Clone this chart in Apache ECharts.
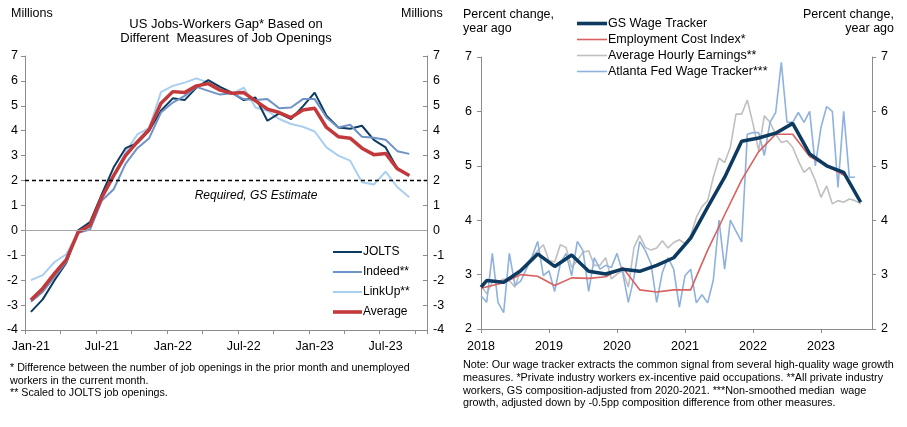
<!DOCTYPE html>
<html>
<head>
<meta charset="utf-8">
<script src="https://cdn.jsdelivr.net/npm/echarts@6.0.0/dist/echarts.min.js"></script>
<style>
html,body{margin:0;padding:0;background:#fff;}
#c{width:907px;height:427px;}
</style>
</head>
<body>
<div id="c"></div>
<script>
// ---------- LEFT PANEL DATA (millions) ----------
var leftMonths = ['Jan-21','Feb-21','Mar-21','Apr-21','May-21','Jun-21','Jul-21','Aug-21','Sep-21','Oct-21','Nov-21','Dec-21',
  'Jan-22','Feb-22','Mar-22','Apr-22','May-22','Jun-22','Jul-22','Aug-22','Sep-22','Oct-22','Nov-22','Dec-22',
  'Jan-23','Feb-23','Mar-23','Apr-23','May-23','Jun-23','Jul-23','Aug-23','Sep-23','Oct-23'];
var jolts   = [-3.27,-2.77,-2.0,-1.3,0.0,0.33,1.45,2.53,3.3,3.5,4.0,4.8,5.3,5.23,5.73,6.03,5.76,5.53,5.23,5.33,4.4,4.7,4.47,4.98,5.53,4.6,4.13,4.08,4.2,3.63,3.33,2.47,2.2];
var indeed  = [-2.87,-2.47,-1.87,-1.27,-0.1,0.03,1.2,1.65,2.67,3.3,3.7,4.73,5.13,5.4,5.76,5.6,5.45,5.5,5.27,5.23,5.27,4.9,4.93,5.27,5.27,4.53,4.13,4.24,3.76,3.72,3.64,3.18,3.07];
var linkup  = [-2.0,-1.8,-1.27,-0.96,-0.07,0.07,1.27,2.2,3.13,3.85,4.1,5.55,5.8,5.93,6.1,5.93,5.67,5.47,5.73,4.93,4.8,4.47,4.27,4.16,3.97,3.33,3.0,2.8,1.93,1.84,2.36,1.73,1.33];
var average = [-2.8,-2.33,-1.73,-1.17,-0.07,0.2,1.33,2.2,3.0,3.55,4.05,5.1,5.57,5.53,5.8,5.89,5.63,5.5,5.53,5.2,4.87,4.73,4.53,4.83,4.9,4.13,3.76,3.7,3.3,3.04,3.09,2.47,2.2];
var requiredGap = 2;
var leftYTicks = {min:-4, max:7, step:1};

// ---------- RIGHT PANEL DATA (percent change, year ago) ----------
var rightStartYear = 2018;
var rightYears = [2018,2019,2020,2021,2022,2023];
// monthly series starting Jan-2018
var ahe = [2.80,2.65,2.86,2.86,2.92,2.89,2.77,3.10,3.20,3.32,3.44,3.55,
           3.26,3.23,3.55,3.50,3.13,3.26,3.41,3.44,3.17,3.17,3.31,2.92,
           3.01,3.07,2.77,3.50,3.72,3.50,3.45,3.49,3.62,3.49,3.59,3.64,
           3.57,3.72,4.05,4.25,4.36,4.79,5.14,5.06,5.34,5.95,5.95,6.21,
           5.77,5.28,5.92,5.80,5.58,5.43,5.46,5.34,5.09,4.88,4.97,4.73,
           4.42,4.63,4.30,4.36,4.33,4.39,4.36,4.30];
var atlanta = [2.61,2.49,3.39,2.49,2.30,3.39,2.80,2.88,3.10,3.33,3.61,2.98,
               3.07,2.69,3.20,3.39,2.98,3.61,3.44,2.69,3.31,3.10,3.17,3.13,
               3.39,3.04,2.49,2.95,3.61,3.44,3.20,2.49,3.04,3.31,3.10,2.40,
               2.98,3.10,2.48,2.63,2.48,2.90,4.00,3.10,4.00,3.80,3.60,5.58,
               5.61,5.61,5.19,5.80,5.98,6.90,5.80,5.80,5.98,5.80,6.00,5.00,
               5.71,6.09,6.00,4.60,6.00,4.79,4.79];
// quarterly series (plotted at mid-quarter month)
var gsDates  = ['2018-01','2018-02','2018-05','2018-08','2018-11','2019-02','2019-05','2019-08','2019-11','2020-02','2020-05','2020-08','2020-11',
                '2021-02','2021-05','2021-08','2021-11','2022-02','2022-05','2022-08','2022-11','2023-02','2023-05','2023-08'];
var gsValues = [2.77,2.89,2.86,3.07,3.38,3.15,3.36,3.06,3.01,3.10,3.06,3.17,3.31,
                3.67,4.24,4.79,5.45,5.51,5.60,5.78,5.22,5.00,4.88,4.33];
var eciDates  = ['2018-01','2018-05','2018-08','2018-11','2019-02','2019-05','2019-08','2019-11','2020-02','2020-05','2020-08','2020-11',
                 '2021-02','2021-05','2021-08','2021-11','2022-02','2022-05','2022-08','2022-11','2023-02','2023-05'];
var eciValues = [2.75,2.85,3.00,2.97,2.80,2.94,2.93,2.96,3.13,2.72,2.68,2.72,
                 2.72,3.45,4.10,4.74,5.26,5.58,5.58,5.17,5.00,4.83];
var rightAxisEndMonth = 69; // axis runs to ~Oct-2023

function monthIndex(s){ var p=s.split('-'); return (parseInt(p[0],10)-rightStartYear)*12 + parseInt(p[1],10)-1; }
function monthlyPairs(arr){ return arr.map(function(v,i){ return [i, v]; }); }
function datedPairs(dates, vals){ return dates.map(function(d,i){ return [monthIndex(d), vals[i]]; }); }
function lineIcon(w, t){ return 'path://M0,0H' + w + 'V' + t + 'H0Z'; }

var FONT = 'Liberation Sans, Arial, sans-serif';
var AX = '#8c8c8c';
function tStyle(size, lh){ return {fontSize:size, fontWeight:'normal', color:'#000', lineHeight:lh, fontFamily:FONT}; }

var chart = echarts.init(document.getElementById('c'), null, {renderer:'canvas'});
var option = {
  animation:false,
  backgroundColor:'#ffffff',
  textStyle:{fontFamily:FONT, color:'#000'},
  title:[
    {text:'US Jobs-Workers Gap* Based on\nDifferent  Measures of Job Openings', left:226, top:17, padding:0, textAlign:'center', textStyle:tStyle(13, 14.5)},
    {text:'Millions', left:11, top:6, padding:0, textStyle:tStyle(12.5, 15)},
    {text:'Millions', left:401, top:6, padding:0, textStyle:tStyle(12.5, 15)},
    {text:'* Difference between the number of job openings in the prior month and unemployed\nworkers in the current month.\n** Scaled to JOLTS job openings.',
     left:10, top:362, padding:0, textStyle:tStyle(10.7, 12.6)},
    {text:'Percent change,\nyear ago', left:463, top:7, padding:0, textStyle:tStyle(12.5, 14.5)},
    {text:'Percent change,\nyear ago', left:894, top:7, padding:0, textAlign:'right', textStyle:tStyle(12.5, 14.5)},
    {text:'Note: Our wage tracker extracts the common signal from several high-quality wage growth\nmeasures. *Private industry workers ex-incentive paid occupations. **All private industry\nworkers, GS composition-adjusted from 2020-2021. ***Non-smoothed median  wage\ngrowth, adjusted down by -0.5pp composition difference from other measures.',
     left:463, top:359, padding:0, textStyle:tStyle(10.8, 12.7)}
  ],
  legend:[
    {data:[{name:'JOLTS', icon:lineIcon(29,2)},{name:'Indeed**', icon:lineIcon(29,2)},{name:'LinkUp**', icon:lineIcon(29,2)},{name:'Average', icon:lineIcon(29,3.6)}],
     orient:'vertical', left:333, top:246, itemWidth:29, itemHeight:12, itemGap:8, padding:0,
     itemStyle:{borderWidth:0}, textStyle:{fontSize:12, color:'#000', fontFamily:FONT, padding:[0,0,0,-4]}},
    {data:[{name:'GS Wage Tracker', icon:lineIcon(30,3.6)},{name:'Employment Cost Index*', icon:lineIcon(30,1.6)},{name:'Average Hourly Earnings**', icon:lineIcon(30,1.6)},{name:'Atlanta Fed Wage Tracker***', icon:lineIcon(30,1.6)}],
     orient:'vertical', left:577, top:17, itemWidth:30, itemHeight:12, itemGap:3, padding:0,
     itemStyle:{borderWidth:0}, textStyle:{fontSize:12.5, color:'#000', fontFamily:FONT, padding:[0,0,0,-4]}}
  ],
  grid:[
    {left:25, right:480, top:56, bottom:97},
    {left:481, right:35, top:57, bottom:98}
  ],
  xAxis:[
    {type:'category', gridIndex:0, data:leftMonths, boundaryGap:true,
     axisLine:{show:true, onZero:false, lineStyle:{color:AX, width:1}},
     axisTick:{show:true, interval:2, length:4, lineStyle:{color:AX}},
     axisLabel:{interval:5, fontSize:12.5, color:'#000', margin:10, fontFamily:FONT},
     splitLine:{show:false}},
    {type:'value', gridIndex:1, min:0, max:rightAxisEndMonth, interval:12,
     axisLine:{show:true, onZero:false, lineStyle:{color:AX, width:1}},
     axisTick:{show:true, length:4, lineStyle:{color:AX}},
     axisLabel:{fontSize:12.5, color:'#000', margin:11, fontFamily:FONT, showMaxLabel:false,
       formatter:function(v){ return (v % 12 === 0) ? String(rightYears[v/12]) : ''; }},
     splitLine:{show:false}}
  ],
  yAxis:[
    {type:'value', gridIndex:0, min:leftYTicks.min, max:leftYTicks.max, interval:leftYTicks.step, position:'left',
     axisLine:{show:true, lineStyle:{color:AX}}, axisTick:{show:true, length:4, lineStyle:{color:AX}},
     axisLabel:{fontSize:12.5, color:'#000', margin:7, fontFamily:FONT}, splitLine:{show:false}},
    {type:'value', gridIndex:0, min:leftYTicks.min, max:leftYTicks.max, interval:leftYTicks.step, position:'right',
     axisLine:{show:true, lineStyle:{color:AX}}, axisTick:{show:true, inside:true, length:4, lineStyle:{color:AX}},
     axisLabel:{fontSize:12.5, color:'#000', margin:6, fontFamily:FONT}, splitLine:{show:false}},
    {type:'value', gridIndex:1, min:2, max:7, interval:1, position:'left',
     axisLine:{show:true, lineStyle:{color:AX}}, axisTick:{show:true, length:4, lineStyle:{color:AX}},
     axisLabel:{fontSize:12.5, color:'#000', margin:9, fontFamily:FONT}, splitLine:{show:false}},
    {type:'value', gridIndex:1, min:2, max:7, interval:1, position:'right',
     axisLine:{show:true, lineStyle:{color:AX}}, axisTick:{show:true, length:4, lineStyle:{color:AX}},
     axisLabel:{fontSize:12.5, color:'#000', margin:9, fontFamily:FONT}, splitLine:{show:false}}
  ],
  series:[
    {name:'refLines', type:'line', xAxisIndex:0, yAxisIndex:0, data:[], z:1, silent:true,
     markLine:{silent:true, symbol:'none', animation:false,
       data:[
         {yAxis:0, lineStyle:{color:'#a6a6a6', type:'solid', width:1}, label:{show:false}},
         {yAxis:requiredGap, lineStyle:{color:'#000', type:[4,3], width:1.3},
          label:{show:true, position:'insideMiddleBottom', formatter:'Required, GS Estimate', fontStyle:'italic', fontSize:12, color:'#000', fontFamily:FONT, distance:4, padding:[5,0,0,60]}}
       ]}},
    {name:'JOLTS', type:'line', xAxisIndex:0, yAxisIndex:0, data:jolts, symbol:'none', color:'#0d3a5f', lineStyle:{width:2, color:'#0d3a5f'}, z:3},
    {name:'Indeed**', type:'line', xAxisIndex:0, yAxisIndex:0, data:indeed, symbol:'none', color:'#6f93c6', lineStyle:{width:2, color:'#6f93c6'}, z:3},
    {name:'LinkUp**', type:'line', xAxisIndex:0, yAxisIndex:0, data:linkup, symbol:'none', color:'#a9cff0', lineStyle:{width:2, color:'#a9cff0'}, z:2},
    {name:'Average', type:'line', xAxisIndex:0, yAxisIndex:0, data:average, symbol:'none', color:'#c3383a', lineStyle:{width:3.5, color:'#c3383a'}, z:4},

    {name:'Average Hourly Earnings**', type:'line', xAxisIndex:1, yAxisIndex:2, data:monthlyPairs(ahe), symbol:'none', color:'#bfbfbf', lineStyle:{width:1.6, color:'#bfbfbf'}, z:2},
    {name:'Atlanta Fed Wage Tracker***', type:'line', xAxisIndex:1, yAxisIndex:2, data:monthlyPairs(atlanta), symbol:'none', color:'#8eb1dd', lineStyle:{width:1.6, color:'#8eb1dd'}, z:2},
    {name:'Employment Cost Index*', type:'line', xAxisIndex:1, yAxisIndex:2, data:datedPairs(eciDates, eciValues), symbol:'none', color:'#d9605e', lineStyle:{width:1.6, color:'#d9605e'}, z:3},
    {name:'GS Wage Tracker', type:'line', xAxisIndex:1, yAxisIndex:2, data:datedPairs(gsDates, gsValues), symbol:'none', color:'#0c3a60', lineStyle:{width:3.5, color:'#0c3a60'}, z:4}
  ]
};
chart.setOption(option);
</script>
</body>
</html>
